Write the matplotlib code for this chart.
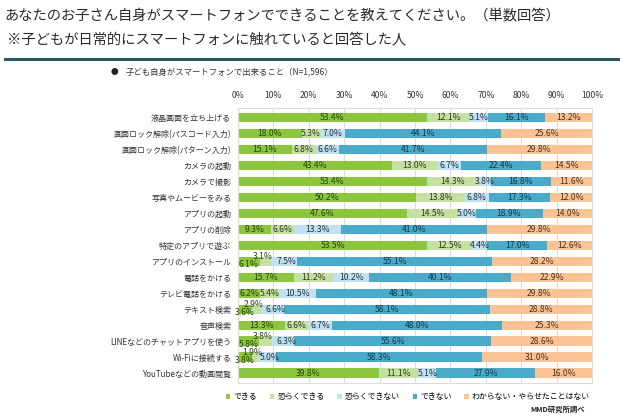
import matplotlib
matplotlib.use("Agg")
import matplotlib.pyplot as plt
from matplotlib.patches import Patch
import numpy as np

plt.rcParams['font.family'] = ['Noto Sans CJK JP', 'DejaVu Sans']

categories = ["液晶画面を立ち上げる", "画面ロック解除(パスコード入力)", "画面ロック解除(パターン入力)",
              "カメラの起動", "カメラで撮影", "写真やムービーをみる", "アプリの起動", "アプリの削除",
              "特定のアプリで遊ぶ", "アプリのインストール", "電話をかける", "テレビ電話をかける",
              "テキスト検索", "音声検索", "LINEなどのチャットアプリを使う", "Wi-Fiに接続する",
              "YouTubeなどの動画閲覧"]
series_names = ["できる", "恐らくできる", "恐らくできない", "できない", "わからない・やらせたことはない"]
dekiru = [53.4, 18.0, 15.1, 43.4, 53.4, 50.2, 47.6, 9.3, 53.5, 6.1, 15.7, 6.2, 3.6, 13.3, 5.8, 3.8, 39.8]
osoraku_dekiru = [12.1, 5.3, 6.8, 13.0, 14.3, 13.8, 14.5, 6.6, 12.5, 3.1, 11.2, 5.4, 2.9, 6.6, 3.8, 1.9, 11.1]
osoraku_dekinai = [5.1, 7.0, 6.6, 6.7, 3.8, 6.8, 5.0, 13.3, 4.4, 7.5, 10.2, 10.5, 6.6, 6.7, 6.3, 5.0, 5.1]
dekinai = [16.1, 44.1, 41.7, 22.4, 16.8, 17.3, 18.9, 41.0, 17.0, 55.1, 40.1, 48.1, 58.1, 48.0, 55.6, 58.3, 27.9]
wakaranai = [13.2, 25.6, 29.8, 14.5, 11.6, 12.0, 14.0, 29.8, 12.6, 28.2, 22.9, 29.8, 28.8, 25.3, 28.6, 31.0, 16.0]
# rows where the two small labels are staggered
staggered = [9, 12, 14, 15]

colors = ["#8cc63f", "#c6e0a4", "#c3e0ee", "#4aaac7", "#f9c396"]
text_colors = ["#2a3d12", "#2a3d12", "#1d3440", "#13364a", "#4a3020"]

fig = plt.figure(figsize=(6.2, 4.2), dpi=100)
ax = fig.add_axes([0.384, 0.088, 0.571, 0.655])

data = [dekiru, osoraku_dekiru, osoraku_dekinai, dekinai, wakaranai]
y = np.arange(len(categories))
left = np.zeros(len(categories))
for si, vals in enumerate(data):
    vals = np.array(vals)
    ax.barh(y, vals, left=left, height=0.62, color=colors[si], edgecolor='none', zorder=2)
    for i, v in enumerate(vals):
        xx = left[i] + v / 2
        yy = i
        if i in staggered:
            if si == 0:
                yy = i + 0.2
            elif si == 1:
                yy = i - 0.3
                xx -= 0.8
            elif si == 2:
                xx += 0.8
        ax.text(xx, yy, f"{v:.1f}%", ha='center', va='center',
                fontsize=6.2, color=text_colors[si], zorder=3)
    left += vals

ax.set_xlim(0, 100)
ax.set_ylim(16.6, -0.6)
ax.set_xticks(np.arange(0, 101, 10))
ax.set_xticklabels([f"{t}%" for t in range(0, 101, 10)])
ax.xaxis.tick_top()
ax.set_yticks(y)
ax.set_yticklabels(categories)
ax.tick_params(axis='x', length=0, labelsize=6.2, colors='#333333', pad=6)
ax.tick_params(axis='y', length=0, labelsize=5.8, colors='#333333', pad=5)
ax.grid(axis='x', color='#dcdcdc', lw=0.8, zorder=0)
ax.set_axisbelow(True)
for sp in ax.spines.values():
    sp.set_color('#dcdcdc')
    sp.set_linewidth(0.8)

# titles
fig.text(0.008, 0.96, "あなたのお子さん自身がスマートフォンでできることを教えてください。（単数回答）",
         fontsize=10.3, color='#2a2a2a', va='center', ha='left')
fig.text(0.012, 0.905, "※子どもが日常的にスマートフォンに触れていると回答した人",
         fontsize=10.3, color='#2a2a2a', va='center', ha='left')
fig.add_artist(plt.Line2D([0.008, 1.0], [0.859, 0.859], color='#2f5566', lw=2.2))
fig.text(0.178, 0.828, "●", fontsize=5.5, color='#222222', va='center', ha='left')
fig.text(0.202, 0.828, "子ども自身がスマートフォンで出来ること（N=1,596）",
         fontsize=6.0, color='#333333', va='center', ha='left')

handles = [Patch(facecolor=c, edgecolor='none') for c in colors]
fig.legend(handles, series_names, loc='center', bbox_to_anchor=(0.658, 0.055), ncol=5,
           frameon=False, fontsize=5.7, handlelength=0.55, handleheight=0.55,
           handletextpad=0.4, columnspacing=1.6)
fig.text(0.944, 0.026, "MMD研究所調べ", fontsize=5.3, fontweight='bold',
         color='#222222', va='center', ha='right')

fig.savefig("out.png", dpi=100)
